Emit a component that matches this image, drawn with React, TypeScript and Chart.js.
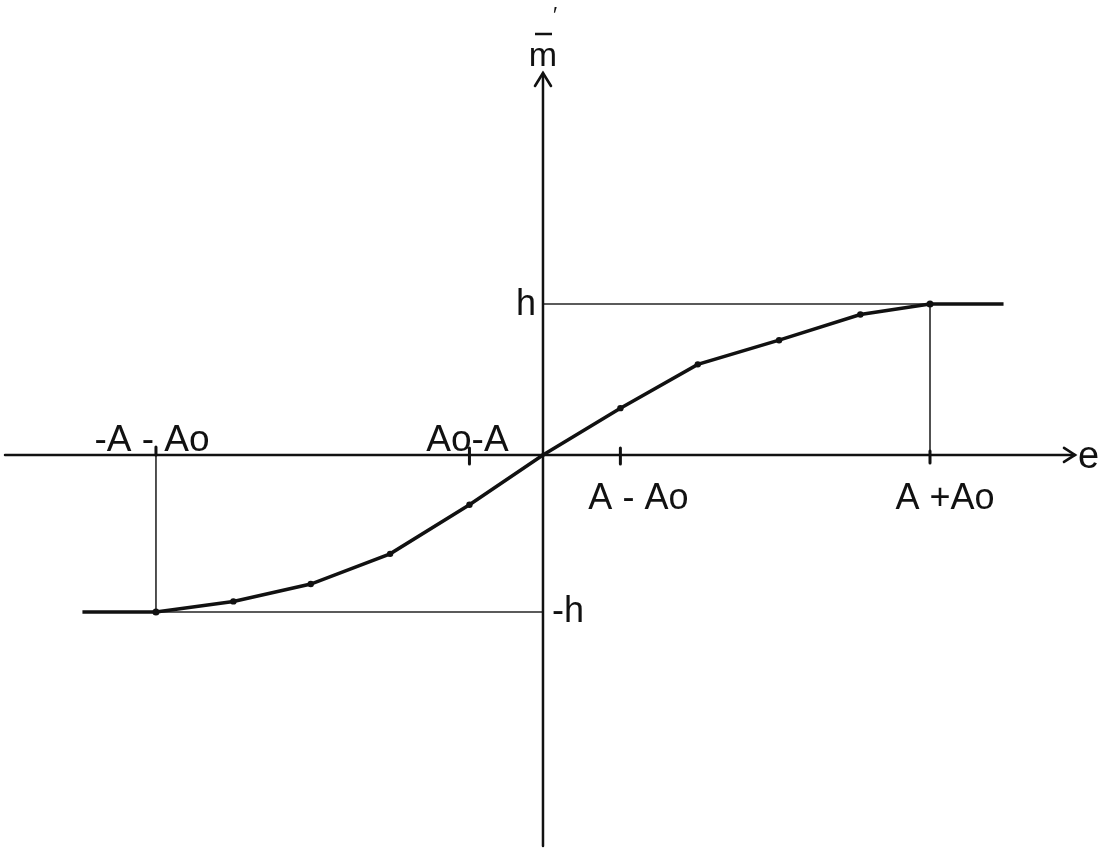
import React, { useEffect, useRef } from "react";
import { Chart, registerables } from "chart.js";

Chart.register(...registerables);

// Curve m̄(e): points (x in units of A+Ao, y in units of h)
const eValues = [-1.19, -1.0, -0.8, -0.6, -0.395, -0.19, 0, 0.2, 0.4, 0.61, 0.82, 1.0, 1.19];
const mValues = [-1.04, -1.04, -0.97, -0.855, -0.655, -0.33, 0, 0.31, 0.6, 0.76, 0.93, 1.0, 1.0];
const markerRadii = [0, 3.5, 3.2, 3.2, 3.2, 3.2, 2, 3.2, 3.2, 3.2, 3.2, 3.5, 0];

// Saturation levels
const hLevel = 1.0;
const negHLevel = -1.04;

// Axis tick marks and labels
const tickPositions = [-1, -0.19, 0.2, 1];
const tickLabels = ["-A - Ao", "Ao-A", "A - Ao", "A +Ao"];
const tickLabelAbove = [true, true, false, false];
const levelLabels = ["h", "-h"];
const xAxisLabel = "e";
const yAxisLabel = "m";

// Visible ranges
const xRange = [-1.403, 1.4625];
const yRange = [-2.603, 3.013];

const FONT = '"Liberation Sans", Arial, sans-serif';
const INK = "#111111";

function seg(ctx: CanvasRenderingContext2D, x1: number, y1: number, x2: number, y2: number) {
  ctx.beginPath();
  ctx.moveTo(x1, y1);
  ctx.lineTo(x2, y2);
  ctx.stroke();
}

const backgroundPlugin = {
  id: "handAxesBack",
  beforeDatasetsDraw(chart: any) {
    const { ctx, chartArea, scales } = chart;
    const X = (v: number) => scales.x.getPixelForValue(v);
    const Y = (v: number) => scales.y.getPixelForValue(v);
    const ox = X(0);
    const oy = Y(0);
    ctx.save();
    ctx.lineCap = "round";

    // guide lines for h and -h
    ctx.strokeStyle = "#262626";
    ctx.lineWidth = 1.6;
    seg(ctx, ox, Y(hLevel), X(tickPositions[3]), Y(hLevel));
    seg(ctx, X(tickPositions[3]), Y(hLevel), X(tickPositions[3]), oy + 7);
    seg(ctx, X(tickPositions[0]), Y(negHLevel), ox, Y(negHLevel));
    seg(ctx, X(tickPositions[0]), Y(negHLevel), X(tickPositions[0]), oy);

    // axes
    ctx.strokeStyle = INK;
    ctx.lineWidth = 2.5;
    const xEnd = chartArea.right - 34;
    const yTop = chartArea.top + 73;
    seg(ctx, chartArea.left + 5, oy, xEnd, oy);
    seg(ctx, ox, chartArea.bottom - 2, ox, yTop);

    // arrow heads
    ctx.lineWidth = 2.6;
    ctx.beginPath();
    ctx.moveTo(xEnd - 11, oy - 7);
    ctx.lineTo(xEnd, oy);
    ctx.lineTo(xEnd - 11, oy + 7);
    ctx.stroke();
    ctx.beginPath();
    ctx.moveTo(ox - 8, yTop + 13);
    ctx.lineTo(ox, yTop);
    ctx.lineTo(ox + 8, yTop + 13);
    ctx.stroke();

    // tick marks
    ctx.lineWidth = 3;
    tickPositions.forEach((t, i) => {
      const px = X(t);
      if (i === 0) seg(ctx, px, oy - 8, px, oy);
      else if (i === 3) seg(ctx, px, oy - 4, px, oy + 8);
      else seg(ctx, px, oy - 7, px, oy + 9);
    });
    ctx.restore();
  },
};

const labelPlugin = {
  id: "handAxesLabels",
  afterDatasetsDraw(chart: any) {
    const { ctx, chartArea, scales } = chart;
    const X = (v: number) => scales.x.getPixelForValue(v);
    const Y = (v: number) => scales.y.getPixelForValue(v);
    const ox = X(0);
    const oy = Y(0);
    ctx.save();
    ctx.fillStyle = INK;
    ctx.strokeStyle = INK;
    ctx.textBaseline = "alphabetic";

    // tick labels
    const dx = [-4, -2, 18, 15];
    tickLabels.forEach((lab, i) => {
      ctx.textAlign = "center";
      ctx.font = `${tickLabelAbove[i] ? 37 : 36}px ${FONT}`;
      const px = X(tickPositions[i]) + dx[i];
      const py = tickLabelAbove[i] ? oy - 4 : oy + 54;
      ctx.fillText(lab, px, py);
    });

    // level labels
    ctx.font = `36px ${FONT}`;
    ctx.textAlign = "right";
    ctx.fillText(levelLabels[0], ox - 7, Y(hLevel) + 11);
    ctx.textAlign = "left";
    ctx.fillText(levelLabels[1], ox + 9, Y(negHLevel) + 10);

    // axis labels
    ctx.font = `38px ${FONT}`;
    ctx.fillText(xAxisLabel, chartArea.right - 31, oy + 13);
    ctx.textAlign = "center";
    ctx.font = `34px ${FONT}`;
    ctx.fillText(yAxisLabel, ox, chartArea.top + 66);
    ctx.lineWidth = 2.5;
    seg(ctx, ox - 8, chartArea.top + 34, ox + 9, chartArea.top + 34);
    ctx.font = `22px ${FONT}`;
    ctx.fillText("′", ox + 12, chartArea.top + 22);
    ctx.restore();
  },
};

export default function App() {
  const canvasRef = useRef<HTMLCanvasElement | null>(null);

  useEffect(() => {
    if (!canvasRef.current) return;
    const data = eValues.map((e, i) => ({ x: e, y: mValues[i] }));
    const chart = new Chart(canvasRef.current, {
      type: "scatter",
      data: {
        datasets: [
          {
            label: "m",
            data,
            showLine: true,
            borderColor: INK,
            borderWidth: 3.5,
            backgroundColor: INK,
            pointRadius: markerRadii,
            pointBorderWidth: 0,
            tension: 0,
          } as any,
        ],
      },
      options: {
        animation: false,
        responsive: false,
        maintainAspectRatio: false,
        layout: { padding: 0 },
        plugins: { legend: { display: false }, tooltip: { enabled: false } },
        scales: {
          x: { type: "linear", min: xRange[0], max: xRange[1], display: false },
          y: { type: "linear", min: yRange[0], max: yRange[1], display: false },
        },
      },
      plugins: [backgroundPlugin, labelPlugin],
    });
    return () => chart.destroy();
  }, []);

  return (
    <div style={{ position: "absolute", left: 0, top: 0, width: 1109, height: 848, background: "#ffffff" }}>
      <canvas ref={canvasRef} width={1109} height={848} style={{ display: "block" }} />
    </div>
  );
}
